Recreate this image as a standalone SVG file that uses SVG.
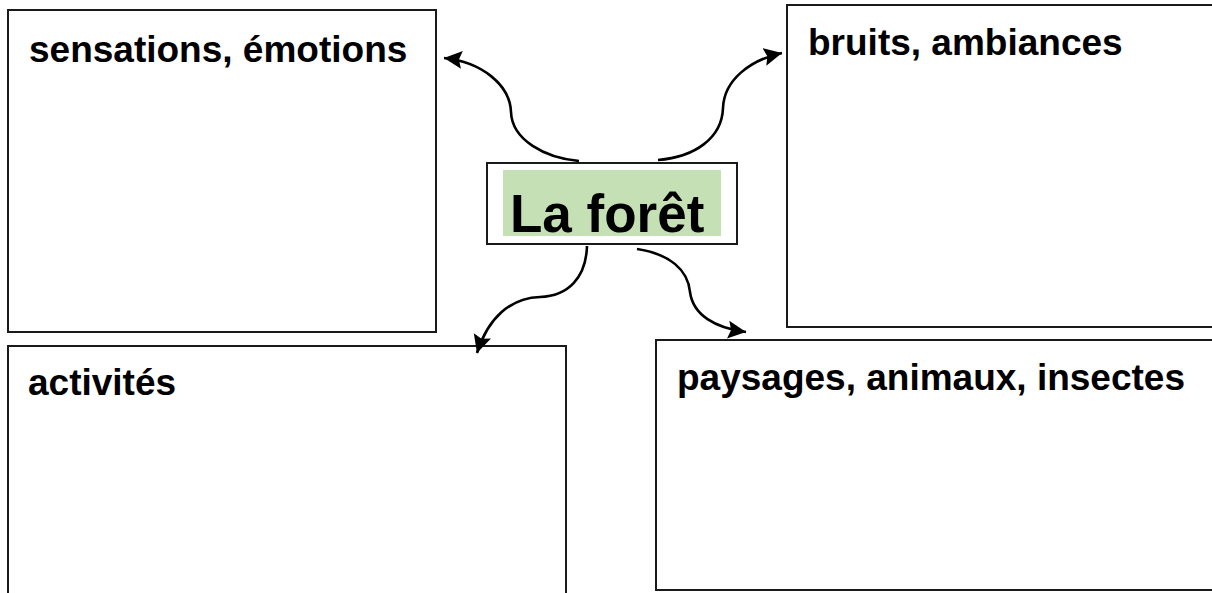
<svg xmlns="http://www.w3.org/2000/svg" width="1212" height="593" viewBox="0 0 1212 593">
<style>
  .box { fill: #ffffff; stroke: #1a1a1a; stroke-width: 2; }
  .lbl { font-family: "Liberation Sans", Arial, sans-serif; font-weight: bold; font-size: 37px; fill: #000; }
  .title { font-family: "Liberation Sans", Arial, sans-serif; font-weight: bold; font-size: 53px; fill: #000; }
  .conn { fill: none; stroke: #000; stroke-width: 2.6; }
</style>
<defs>
  <marker id="arrow" markerUnits="userSpaceOnUse" markerWidth="22" markerHeight="22" refX="18" refY="9" orient="auto">
    <path d="M0,0 L18,9 L0,18 L3,9 Z" fill="#000"/>
  </marker>
</defs>
<rect width="1212" height="593" fill="#ffffff"/>
<g id="node-sensations">
  <rect class="box" x="8" y="10" width="428" height="322"/>
  <text class="lbl" x="29" y="62">sensations, émotions</text>
</g>
<g id="node-bruits">
  <rect class="box" x="787" y="5" width="440" height="322"/>
  <text class="lbl" x="808" y="55">bruits, ambiances</text>
</g>
<g id="node-activites">
  <rect class="box" x="8" y="346" width="558" height="260"/>
  <text class="lbl" x="28" y="395">activités</text>
</g>
<g id="node-paysages">
  <rect class="box" x="656" y="340" width="570" height="250"/>
  <text class="lbl" x="677" y="390">paysages, animaux, insectes</text>
</g>
<g id="node-foret">
  <rect class="box" x="487" y="163" width="250" height="81"/>
  <rect x="503" y="170" width="218" height="66" fill="#c5e0b4"/>
  <text class="title" x="510" y="232">La forêt</text>
</g>
<g id="connectors">
  <path class="conn" marker-end="url(#arrow)" d="M579,161 C545,158 512,140 511,112 C510,85 482,62 444,58"/>
  <path class="conn" marker-end="url(#arrow)" d="M658,160 C695,157 722,138 723,108 C724,80 750,60 782,53"/>
  <path class="conn" marker-end="url(#arrow)" d="M587,246 C586,278 568,296 540,297 C510,298 488,318 477,353"/>
  <path class="conn" marker-end="url(#arrow)" d="M637,249 C670,254 688,270 690,292 C693,315 715,328 746,332"/>
</g>
</svg>
